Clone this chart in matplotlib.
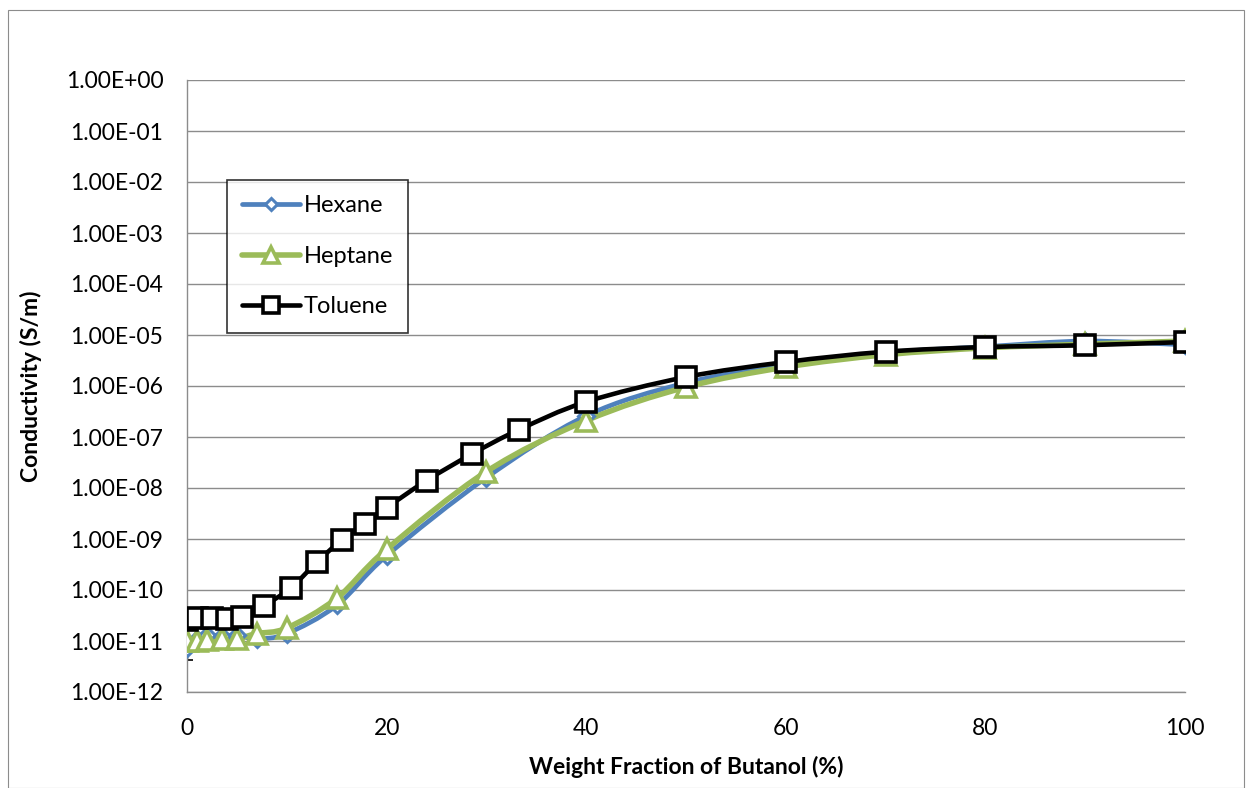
import numpy as np
import matplotlib
matplotlib.use("Agg")
import matplotlib.pyplot as plt
from matplotlib.path import Path
from matplotlib.patches import PathPatch, Rectangle
from matplotlib.lines import Line2D
from matplotlib.ticker import FuncFormatter, FixedLocator

# ---- data ----
hexane_x = [0, 1, 2, 3.5, 5, 7, 10, 15, 20, 30, 40, 50, 60, 70, 80, 90, 100]
hexane_y = [7.2e-12, 1.1e-11, 1.3e-11, 1.25e-11, 1.3e-11, 1.1e-11, 1.4e-11, 5.0e-11, 4.7e-10,
            1.6e-8, 2.6e-7, 1.15e-6, 2.6e-6, 4.5e-6, 5.9e-6, 7.6e-6, 6.4e-6]
hexane_err_low = 3.0e-12

heptane_x = [0, 1, 2, 3.5, 5, 7, 10, 15, 20, 30, 40, 50, 60, 70, 80, 90, 100]
heptane_y = [1.0e-11, 1.0e-11, 1.05e-11, 1.1e-11, 1.1e-11, 1.4e-11, 1.8e-11, 6.9e-11, 6.3e-10,
             2.1e-8, 2.1e-7, 9.5e-7, 2.35e-6, 4.1e-6, 5.6e-6, 6.6e-6, 7.6e-6]

toluene_x = [0, 1, 2.5, 4, 5.5, 7.7, 10.4, 13, 15.5, 17.8, 20, 24, 28.6, 33.3, 40, 50, 60, 70, 80, 90, 100]
toluene_y = [2.6e-11, 2.8e-11, 2.8e-11, 2.7e-11, 3.0e-11, 4.9e-11, 1.1e-10, 3.5e-10, 9.6e-10, 2.0e-9,
             4.1e-9, 1.4e-8, 4.7e-8, 1.4e-7, 4.9e-7, 1.5e-6, 2.95e-6, 4.7e-6, 5.8e-6, 6.3e-6, 7.3e-6]

series_names = ["Hexane", "Heptane", "Toluene"]
x_ticks = [0, 20, 40, 60, 80, 100]
y_ticks = [1e-12, 1e-11, 1e-10, 1e-9, 1e-8, 1e-7, 1e-6, 1e-5, 1e-4, 1e-3, 1e-2, 1e-1, 1e0]

FONT = ["Lato", "DejaVu Sans"]
plt.rcParams["font.family"] = FONT

W, H = 1246, 788
fig = plt.figure(figsize=(W / 100, H / 100), dpi=100)
ax = fig.add_axes([187 / W, 1 - 692 / H, (1185 - 187) / W, (692 - 80) / H])

# outer chart border
fig.patches.append(Rectangle((8 / W, 0.0), (1244 - 8) / W, (H - 10) / H, transform=fig.transFigure,
                             fill=False, edgecolor="#8c8c8c", linewidth=0.8))

ax.set_yscale("log")
ax.set_xlim(0, 100)
ax.set_ylim(1e-12, 1e0)


def smooth_path(xs, ys):
    """Excel-like smoothed line: cubic Bezier through points, computed in (x, log y)."""
    px = np.asarray(xs, float)
    py = np.log10(np.asarray(ys, float))
    n = len(px)
    verts = [(px[0], py[0])]
    codes = [Path.MOVETO]
    for i in range(n - 1):
        p0 = (px[max(i - 1, 0)], py[max(i - 1, 0)])
        p1 = (px[i], py[i])
        p2 = (px[i + 1], py[i + 1])
        p3 = (px[min(i + 2, n - 1)], py[min(i + 2, n - 1)])
        c1 = (p1[0] + (p2[0] - p0[0]) / 6, p1[1] + (p2[1] - p0[1]) / 6)
        c2 = (p2[0] - (p3[0] - p1[0]) / 6, p2[1] - (p3[1] - p1[1]) / 6)
        verts += [c1, c2, p2]
        codes += [Path.CURVE4] * 3
    verts = [(vx, 10 ** vy) for vx, vy in verts]
    return Path(verts, codes)


styles = [
    dict(color="#4f81bd", lw=3.4, marker="D", ms=8, mew=2.2),
    dict(color="#9bbb59", lw=4.0, marker="^", ms=14, mew=2.6),
    dict(color="#000000", lw=3.3, marker="s", ms=14.5, mew=2.6),
]
data = [(hexane_x, hexane_y), (heptane_x, heptane_y), (toluene_x, toluene_y)]

handles = []
for (xs, ys), st, name in zip(data, styles, series_names):
    patch = PathPatch(smooth_path(xs, ys), fill=False, edgecolor=st["color"], lw=st["lw"],
                      capstyle="round", joinstyle="round", zorder=3)
    ax.add_patch(patch)
    ax.plot(xs, ys, linestyle="none", marker=st["marker"], ms=st["ms"], mfc="white",
            mec=st["color"], mew=st["mew"], zorder=4)
    handles.append(Line2D([], [], color=st["color"], lw=st["lw"], marker=st["marker"],
                          ms=st["ms"] * 0.78, mfc="white", mec=st["color"], mew=st["mew"],
                          solid_capstyle="round"))

# error bar at hexane x=0
ax.errorbar([hexane_x[0]], [hexane_y[0]], yerr=[[hexane_err_low], [0]], fmt="none",
            ecolor="black", elinewidth=1.0, capsize=4, capthick=1.2, zorder=2)

# grid & axes
ax.yaxis.set_major_locator(FixedLocator(y_ticks))
ax.yaxis.set_minor_locator(FixedLocator([]))
ax.yaxis.set_major_formatter(FuncFormatter(lambda v, p: f"{v:.2E}"))
ax.set_xticks(x_ticks)
ax.grid(axis="y", color="#8c8c8c", linewidth=1.0)
ax.set_axisbelow(True)
for s in ["top", "right"]:
    ax.spines[s].set_visible(False)
for s in ["left", "bottom"]:
    ax.spines[s].set_color("#8c8c8c")
    ax.spines[s].set_linewidth(1.0)
ax.tick_params(axis="both", length=0, labelsize=16.5, colors="black")
ax.tick_params(axis="y", pad=17)
ax.tick_params(axis="x", pad=19)

ax.set_xlabel("Weight Fraction of Butanol (%)", fontsize=16.5, fontweight="bold", labelpad=12)
ax.set_ylabel("Conductivity (S/m)", fontsize=16.5, fontweight="bold", labelpad=17)

leg = ax.legend(handles, series_names, loc="upper left",
                bbox_to_anchor=((227 - 187) / (1185 - 187), 1 - (180 - 80) / (692 - 80)),
                frameon=True, fancybox=False, edgecolor="black", fontsize=17,
                handlelength=2.45, handletextpad=0.15, labelspacing=1.25, borderpad=0.65,
                borderaxespad=0)
leg.get_frame().set_linewidth(1.2)

fig.savefig("out.png", dpi=100)
